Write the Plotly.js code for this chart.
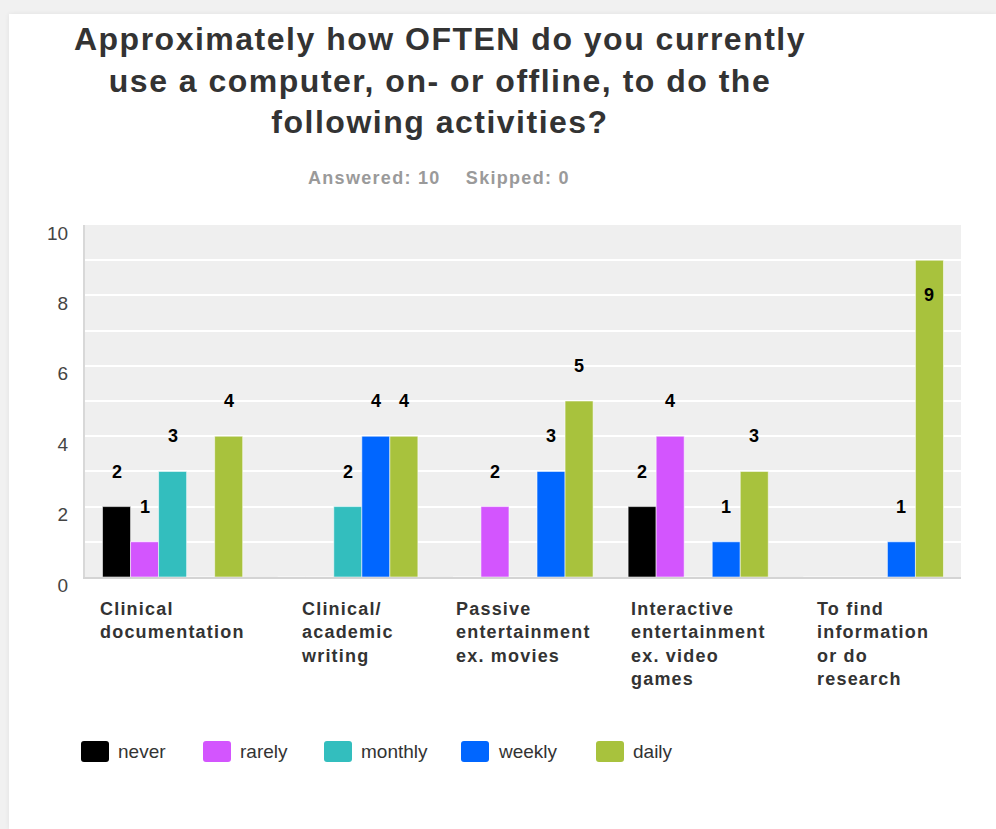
<!DOCTYPE html>
<html><head><meta charset="utf-8">
<script src="https://cdn.plot.ly/plotly-3.0.1.min.js"></script>
<style>
html,body{margin:0;padding:0;background:#f1f1f1;width:996px;height:829px;overflow:hidden;}
#wrap{position:absolute;left:9px;top:14px;width:987px;height:815px;background:#fff;box-shadow:0 0 5px rgba(0,0,0,0.07);}
#chart{width:987px;height:815px;}
</style></head><body><div id="wrap"><div id="chart"></div></div>
<script>
const categories = ["Clinical<br>documentation","Clinical/<br>academic<br>writing","Passive<br>entertainment<br>ex. movies","Interactive<br>entertainment<br>ex. video<br>games","To find<br>information<br>or do<br>research"];
const seriesNames = ["never","rarely","monthly","weekly","daily"];
const never   = [2,0,0,2,0];
const rarely  = [1,0,2,4,0];
const monthly = [3,2,0,0,0];
const weekly  = [0,4,3,1,1];
const daily   = [4,4,5,3,9];
const colors = ["#000000","#d355fe","#33bebe","#0066ff","#a8c23d"];
const yTickVals = [0,1,2,3,4,5,6,7,8,9,10];
const yTickText = ["0","","2","","4","","6","","8","","10"];
const titleLines = ["Approximately how OFTEN do you currently","use a computer, on- or offline, to do the","following activities?"];
const subtitleText = "Answered: 10&nbsp;&nbsp;&nbsp;&nbsp;Skipped: 0";

const seriesValues = [never, rarely, monthly, weekly, daily];
const FONT = "'Liberation Sans', Arial, Helvetica, sans-serif";
const W = 987, H = 815;
const M = {l:76, r:35, t:211, b:252};
const plotW = W - M.l - M.r, plotH = H - M.t - M.b;
const BARGAP = 0.2;
const step = plotW / categories.length * (1 - BARGAP) / seriesNames.length;

function spaced(lines, ls) {
  return lines.map(l => '<b><span style="letter-spacing:' + ls + 'px">' + l + '</span></b>').join('<br>');
}

const traces = seriesNames.map((n, i) => ({
  type: 'bar', name: n, x: categories, y: seriesValues[i],
  marker: {color: colors[i], line: {color: 'rgba(255,255,255,0.55)', width: 1}},
  hoverinfo: 'x+y+name', showlegend: false
}));

const annotations = [];
// data labels
seriesValues.forEach((vals, i) => {
  vals.forEach((v, j) => {
    if (v <= 0) return;
    const inside = v >= 9;
    annotations.push({
      xref: 'x', yref: 'y', x: categories[j], y: v,
      xshift: (i - (seriesNames.length - 1) / 2) * step,
      yshift: inside ? -35 : 35, yanchor: 'middle', xanchor: 'center',
      text: '<b>' + v + '</b>', showarrow: false,
      font: {family: FONT, size: 18, color: '#000'}
    });
  });
});
// category labels
categories.forEach(c => {
  annotations.push({
    xref: 'x', yref: 'paper', x: c, y: 0, yanchor: 'top', xanchor: 'center',
    yshift: -20, align: 'left', showarrow: false,
    text: spaced(c.split('<br>'), 1.2), font: {family: FONT, size: 18, color: '#333'}
  });
});
// subtitle
annotations.push({
  xref: 'paper', yref: 'paper', x: (429.5 - M.l) / plotW, y: (H - M.b - 164) / plotH,
  xanchor: 'center', yanchor: 'middle', showarrow: false,
  text: spaced([subtitleText], 1.3), font: {family: FONT, size: 18, color: '#9a9a9a'}
});
// custom legend
const legendX = [72, 194, 315, 452, 587];
const shapes = [];
const px = x => (x - M.l) / plotW, py = y => (H - M.b - y) / plotH;
seriesNames.forEach((n, i) => {
  const x0 = legendX[i], x1 = x0 + 28, y0 = 727, y1 = 748, r = 3;
  const path = 'M' + px(x0 + r) + ',' + py(y0) +
    ' L' + px(x1 - r) + ',' + py(y0) + ' Q' + px(x1) + ',' + py(y0) + ' ' + px(x1) + ',' + py(y0 + r) +
    ' L' + px(x1) + ',' + py(y1 - r) + ' Q' + px(x1) + ',' + py(y1) + ' ' + px(x1 - r) + ',' + py(y1) +
    ' L' + px(x0 + r) + ',' + py(y1) + ' Q' + px(x0) + ',' + py(y1) + ' ' + px(x0) + ',' + py(y1 - r) +
    ' L' + px(x0) + ',' + py(y0 + r) + ' Q' + px(x0) + ',' + py(y0) + ' ' + px(x0 + r) + ',' + py(y0) + ' Z';
  shapes.push({type: 'path', xref: 'paper', yref: 'paper', path: path,
    fillcolor: colors[i], line: {width: 0}});
  annotations.push({xref: 'paper', yref: 'paper', x: px(x1 + 7),
    y: py(737), xanchor: 'left', yanchor: 'middle', showarrow: false,
    text: n, font: {family: FONT, size: 19, color: '#333'}});
});

const layout = {
  width: W, height: H, margin: M,
  paper_bgcolor: '#fff', plot_bgcolor: '#efefef',
  font: {family: FONT, color: '#333'},
  title: {text: spaced(titleLines, 1.5), xref: 'container', yref: 'container',
    x: 431 / W, xanchor: 'center', y: 1 - 36 / H, yanchor: 'top',
    font: {family: FONT, size: 32, color: '#333'}},
  barmode: 'group', bargap: BARGAP, bargroupgap: 0,
  xaxis: {type: 'category', showticklabels: false, showgrid: false, zeroline: false,
    showline: true, linecolor: '#d4d4d4', linewidth: 2, ticks: '', fixedrange: true},
  yaxis: {range: [0, 10], tickmode: 'array', tickvals: yTickVals, ticktext: yTickText,
    showgrid: true, gridcolor: '#ffffff', gridwidth: 2, zeroline: false,
    showline: true, linecolor: '#d8d8d8', linewidth: 2, ticks: '',
    ticklabelstandoff: 11, ticklabelshift: 8,
    tickfont: {family: FONT, size: 19, color: '#444'}, fixedrange: true},
  showlegend: false, annotations: annotations, shapes: shapes
};
Plotly.newPlot('chart', traces, layout, {displayModeBar: false, staticPlot: true});
</script></body></html>
